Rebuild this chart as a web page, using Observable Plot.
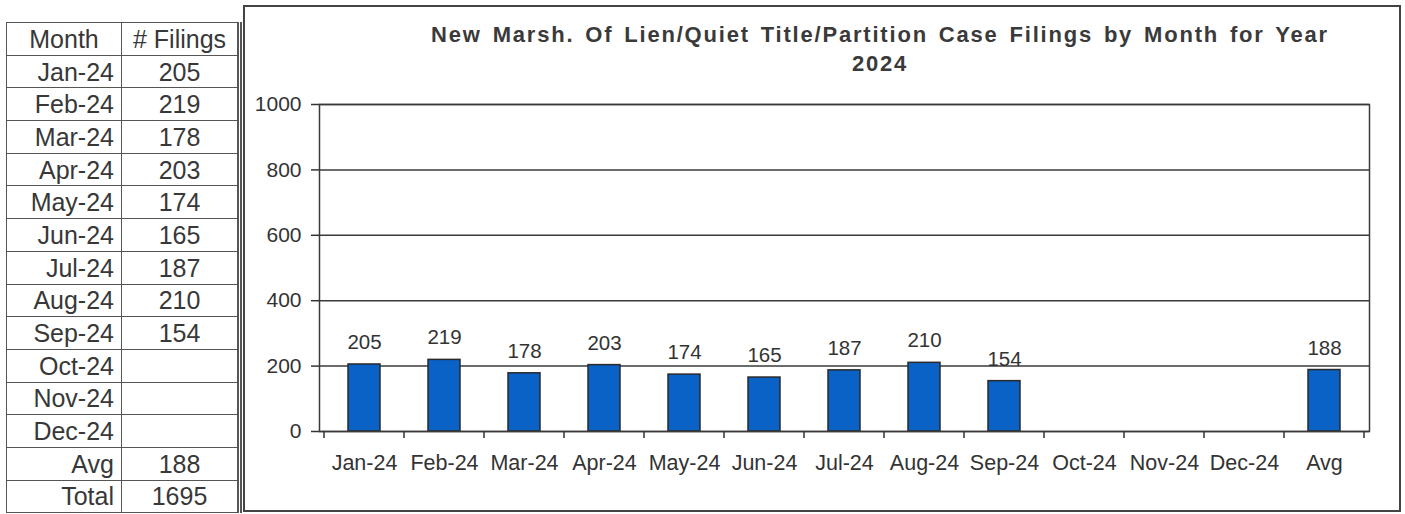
<!DOCTYPE html>
<html><head><meta charset="utf-8">
<script src="https://cdn.jsdelivr.net/npm/d3@7"></script>
<script src="https://cdn.jsdelivr.net/npm/@observablehq/plot@0.6"></script>
<style>
html,body{margin:0;padding:0;background:#fff;}
body{font-family:"Liberation Sans",Arial,sans-serif;color:#333;width:1405px;height:514px;overflow:hidden;position:relative}
#tbl{position:absolute;left:6px;top:22px;border-collapse:collapse;width:236px;font-size:25px;color:#383838;border-right:5px double #555;}
#tbl td{border:1.5px solid #555;height:31.7px;padding:0;line-height:28px}
#tbl td.m{text-align:right;padding-right:7px;width:107px}
#tbl td.v{text-align:center}
#tbl tr.h td{text-align:center;padding-right:0}
#box{position:absolute;left:243px;top:5px;width:1158px;height:507px;box-sizing:border-box;border:2px solid #444;}
#title{position:absolute;left:330px;width:1100px;top:20px;text-align:center;font-weight:bold;font-size:22px;line-height:29px;color:#3a3a3a;letter-spacing:1.8px;word-spacing:3px}
#chart{position:absolute;left:243px;top:80px;}
#chart svg{overflow:visible}
</style></head>
<body>
<table id="tbl"></table>
<div id="box"></div>
<div id="title"></div>
<div id="chart"></div>
<script>
const titleLine1 = "New Marsh. Of Lien/Quiet Title/Partition Case Filings by Month for Year";
const titleLine2 = "2024";
const months = ["Jan-24","Feb-24","Mar-24","Apr-24","May-24","Jun-24","Jul-24","Aug-24","Sep-24","Oct-24","Nov-24","Dec-24"];
const filings = [205,219,178,203,174,165,187,210,154,null,null,null];
const avgLabel = "Avg";
const avgValue = 188;
const totalLabel = "Total";
const totalValue = 1695;
const headerLabels = ["Month","# Filings"];
const yTicks = [0,200,400,600,800,1000];

// Title
document.getElementById("title").innerHTML = titleLine1 + "<br>" + titleLine2;

// Table
const tbl = document.getElementById("tbl");
const rows = [[headerLabels[0], headerLabels[1], true]]
  .concat(months.map((m,i)=>[m, filings[i]==null?"":filings[i], false]))
  .concat([[avgLabel, avgValue, false],[totalLabel, totalValue, false]]);
for (const [a,b,h] of rows){
  const tr = document.createElement("tr");
  if (h) tr.className = "h";
  const t1 = document.createElement("td"); t1.className="m"; t1.textContent=a;
  const t2 = document.createElement("td"); t2.className="v"; t2.textContent=b;
  tr.append(t1,t2); tbl.append(tr);
}

// Chart data
const categories = [...months, avgLabel];
const values = [...filings, avgValue];
const data = categories.map((c,i)=>({cat:c, value:values[i]})).filter(d=>d.value!=null);

function boundaryTicks(index, scales, values2, dimensions){
  const x = scales.x, y0 = scales.y(0);
  const step = x(categories[1]) - x(categories[0]);
  const xs = categories.map(c=>x(c)).concat([x(categories[categories.length-1]) + step]);
  const g = d3.create("svg:g").attr("stroke","#333").attr("stroke-width",1.5);
  for (const xv of xs) g.append("line").attr("x1",xv).attr("x2",xv).attr("y1",y0).attr("y2",y0+7);
  return g.node();
}

const plot = Plot.plot({
  width: 1157,
  height: 430,
  marginLeft: 76,
  marginRight: 31,
  marginTop: 24,
  marginBottom: 79,
  style: {fontFamily: '"Liberation Sans", Arial, sans-serif', fontSize: "21px", color: "#333", background: "transparent"},
  x: {type: "band", domain: categories, padding: 0, label: null},
  y: {domain: [0,1000], label: null},
  marks: [
    Plot.ruleY(yTicks, {stroke: "#3a3a3a", strokeWidth: 1.5}),
    Plot.barY(data, {x: "cat", y: "value", fill: "#0b62c6", stroke: "#2a2a2a", strokeWidth: 1.5, insetLeft: 24, insetRight: 24}),
    Plot.frame({stroke: "#3a3a3a", strokeWidth: 1.5}),
    Plot.text(data, {x: "cat", y: "value", text: d=>String(d.value), dy: -22, fontSize: 20.5, fill: "#333"}),
    Plot.axisY({ticks: yTicks, tickSize: 8, tickPadding: 10, fontSize: 21, stroke: "#333", strokeWidth: 1.5, tickFormat: d=>String(d)}),
    Plot.axisX({tickSize: 0, tickPadding: 23, fontSize: 21.5}),
    boundaryTicks
  ]
});
document.getElementById("chart").append(plot);
</script>
</body></html>
